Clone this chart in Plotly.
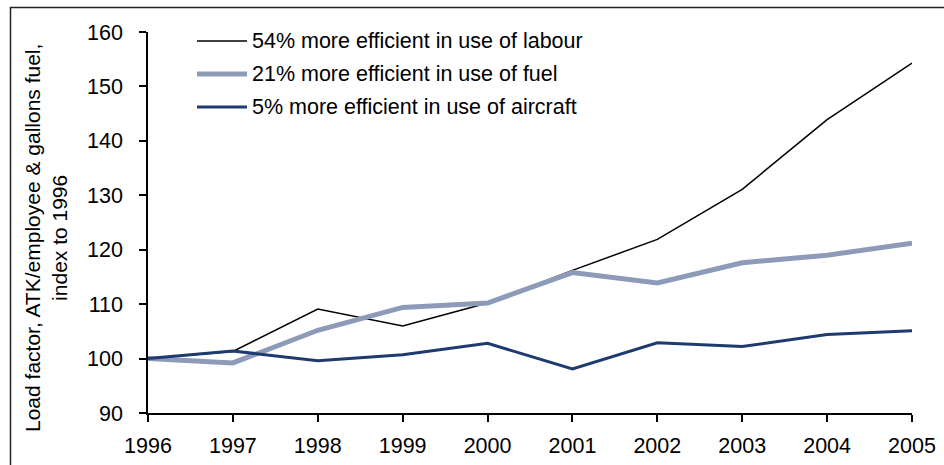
import plotly.graph_objects as go

years = [1996, 1997, 1998, 1999, 2000, 2001, 2002, 2003, 2004, 2005]
labour = [100, 101.3, 109.1, 106.0, 110.2, 116.2, 121.9, 131.1, 143.9, 154.3]
fuel = [100, 99.2, 105.2, 109.4, 110.2, 115.8, 113.9, 117.6, 119.0, 121.2]
aircraft = [100, 101.4, 99.6, 100.7, 102.8, 98.1, 102.9, 102.2, 104.4, 105.1]

series_names = [
    "54% more efficient in use of labour",
    "21% more efficient in use of fuel",
    "5% more efficient in use of aircraft",
]
series_values = [labour, fuel, aircraft]
series_colors = ["#000000", "#8E9BB8", "#1F3A6E"]
series_widths = [1.5, 5, 3]

y_ticks = [90, 100, 110, 120, 130, 140, 150, 160]

FONT = "Liberation Sans, Arial, sans-serif"

fig = go.Figure()
for name, vals, col, w in zip(series_names, series_values, series_colors, series_widths):
    fig.add_trace(go.Scatter(x=years, y=vals, mode="lines", name=name,
                             line=dict(color=col, width=w), showlegend=False))

axis_common = dict(showgrid=False, zeroline=False, showline=True, linecolor="#000",
                   linewidth=1.5, tickcolor="#000", tickwidth=1.5, automargin=False)
fig.update_layout(
    width=944, height=465,
    margin=dict(l=148, r=32, t=32, b=52),
    plot_bgcolor="white", paper_bgcolor="white",
    font=dict(family=FONT, size=21.5, color="#000"),
    xaxis=dict(range=[1996, 2005], tickvals=years, ticks="outside", ticklen=7,
               ticklabelstandoff=5, **axis_common),
    yaxis=dict(range=[90, 160], tickvals=y_ticks, ticks="outside", ticklen=7,
               ticklabelstandoff=12, **axis_common),
    xaxis2=dict(range=[1996, 2005], tickvals=years, ticks="inside", ticklen=7,
                overlaying="x", side="bottom", showticklabels=False, anchor="y", **axis_common),
    yaxis2=dict(range=[90, 160], tickvals=y_ticks, ticks="inside", ticklen=7,
                overlaying="y", side="left", showticklabels=False, anchor="x", **axis_common),
    showlegend=False,
)

def px_x(p):
    return (p - 148) / 764.0

def px_y(p):
    return (413 - p) / 381.0

shapes = [
    dict(type="line", xref="paper", yref="paper", x0=px_x(10), x1=px_x(944),
         y0=px_y(7.5), y1=px_y(7.5), line=dict(color="#222", width=1.5)),
    dict(type="line", xref="paper", yref="paper", x0=px_x(10.5), x1=px_x(10.5),
         y0=px_y(7), y1=px_y(465), line=dict(color="#222", width=1.5)),
]
annotations = [
    dict(text="Load factor, ATK/employee & gallons fuel,<br>index to 1996",
         xref="paper", yref="paper", x=px_x(46), y=px_y(238), textangle=-90,
         showarrow=False, xanchor="center", yanchor="middle",
         font=dict(family=FONT, size=21, color="#000")),
]
row_y = [41, 74, 107]
for name, col, w, ry in zip(series_names, series_colors, series_widths, row_y):
    shapes.append(dict(type="line", xref="paper", yref="paper", x0=px_x(197), x1=px_x(247),
                       y0=px_y(ry), y1=px_y(ry), line=dict(color=col, width=w)))
    annotations.append(dict(text=name, xref="paper", yref="paper", x=px_x(250), y=px_y(ry),
                            xanchor="left", yanchor="middle", showarrow=False,
                            font=dict(family=FONT, size=21.5, color="#000")))

fig.update_layout(shapes=shapes, annotations=annotations)
fig.write_html("out.html")
